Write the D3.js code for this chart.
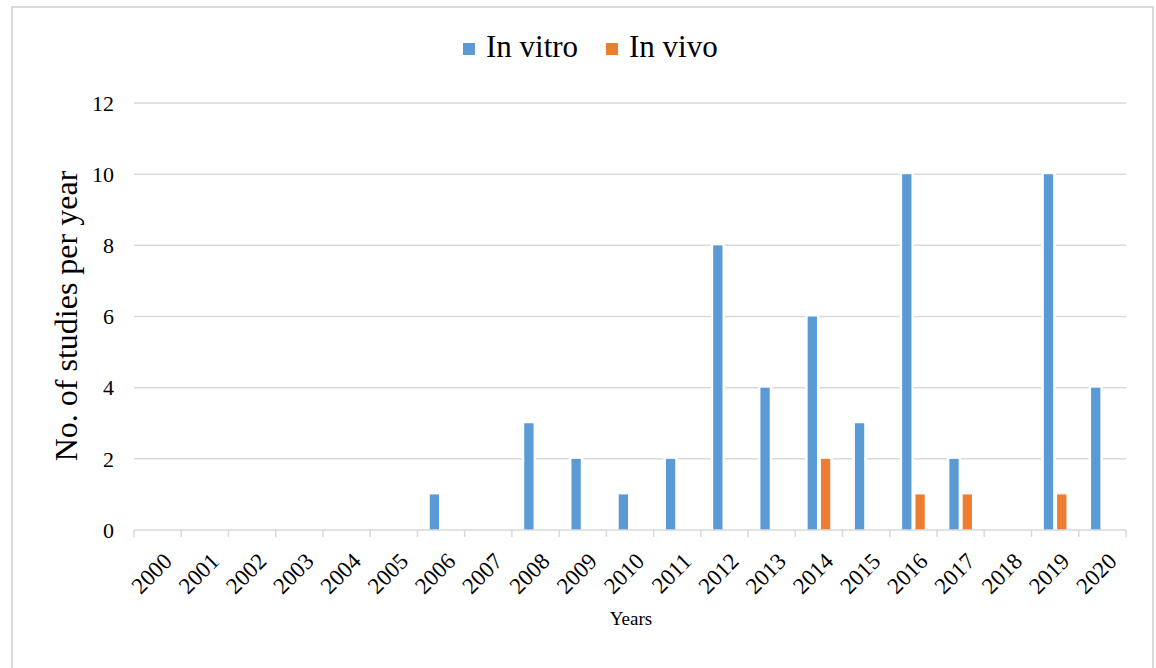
<!DOCTYPE html>
<html>
<head>
<meta charset="utf-8">
<script src="https://cdn.jsdelivr.net/npm/d3@7"></script>
<style>
  body { margin: 0; background: #fff; }
  svg text { font-family: "Liberation Serif", serif; fill: #000; }
</style>
</head>
<body>
<svg id="chart" width="1156" height="668"></svg>
<script>
let years = ["2000", "2001", "2002", "2003", "2004", "2005", "2006", "2007", "2008", "2009", "2010",
    "2011", "2012", "2013", "2014", "2015", "2016", "2017", "2018", "2019", "2020"];
let inVitro = [0, 0, 0, 0, 0, 0, 1, 0, 3, 2, 1, 2, 8, 4, 6, 3, 10, 2, 0, 10, 4];
let inVivo = [0, 0, 0, 0, 0, 0, 0, 0, 0, 0, 0, 0, 0, 0, 2, 0, 1, 1, 0, 1, 0];
let seriesNames = ["In vitro", "In vivo"];
let seriesColors = ["#5b9bd5", "#ed7d31"];
let yTicks = [0, 2, 4, 6, 8, 10, 12];

let serif = "'Liberation Serif', serif";
let svg = d3.select("#chart");

// chart border
svg.append("rect")
    .attr("x", 12).attr("y", 7)
    .attr("width", 1141).attr("height", 700)
    .attr("fill", "none")
    .attr("stroke", "#d9d9d9")
    .attr("stroke-width", 2);

let plotLeft = 134, plotRight = 1126, plotTop = 103, plotBottom = 530;

let x0 = d3.scaleBand().domain(years).range([plotLeft, plotRight]).padding(0);
let x1 = d3.scaleBand().domain(seriesNames).range([-11.3, 11.3]).paddingInner(0.3);
let y = d3.scaleLinear().domain([0, 12]).range([plotBottom, plotTop]);

// gridlines
svg.append("g")
    .selectAll("line")
    .data(yTicks.filter((d) => d > 0))
    .join("line")
    .attr("x1", plotLeft).attr("x2", plotRight)
    .attr("y1", (d) => y(d)).attr("y2", (d) => y(d))
    .attr("stroke", "#d9d9d9")
    .attr("stroke-width", 1.5);

// bars
let rows = [];
years.forEach((yr, i) => {
    [inVitro[i], inVivo[i]].forEach((v, j) => {
        if (v > 0) rows.push({ year: yr, series: seriesNames[j], value: v, color: seriesColors[j] });
    });
});

svg.append("g")
    .selectAll("rect")
    .data(rows)
    .join("rect")
    .attr("x", (d) => x0(d.year) + x0.bandwidth() / 2 + x1(d.series))
    .attr("width", x1.bandwidth())
    .attr("y", (d) => y(d.value))
    .attr("height", (d) => y(0) - y(d.value))
    .attr("fill", (d) => d.color)
    .attr("stroke", "#fff")
    .attr("stroke-width", 5)
    .style("paint-order", "stroke");

// x axis
let xAxis = svg.append("g");
xAxis.append("line")
    .attr("x1", plotLeft).attr("x2", plotRight)
    .attr("y1", plotBottom).attr("y2", plotBottom)
    .attr("stroke", "#d9d9d9")
    .attr("stroke-width", 1.5);
xAxis.selectAll(".tick")
    .data(years.concat(["end"]))
    .join("line")
    .attr("x1", (d, i) => plotLeft + i * x0.step())
    .attr("x2", (d, i) => plotLeft + i * x0.step())
    .attr("y1", plotBottom).attr("y2", plotBottom + 7)
    .attr("stroke", "#d9d9d9")
    .attr("stroke-width", 1.5);
xAxis.selectAll("text")
    .data(years)
    .join("text")
    .attr("transform", (d) => `translate(${x0(d) + x0.bandwidth() / 2 + 4},${plotBottom + 21}) rotate(-45)`)
    .attr("text-anchor", "end")
    .attr("dy", "0.72em")
    .style("font-family", serif)
    .style("font-size", "23px")
    .text((d) => d);

// y labels
svg.append("g")
    .selectAll("text")
    .data(yTicks)
    .join("text")
    .attr("x", 114)
    .attr("y", (d) => y(d))
    .attr("dy", "0.35em")
    .attr("text-anchor", "end")
    .style("font-family", serif)
    .style("font-size", "22px")
    .text((d) => d);

// axis titles
svg.append("text")
    .attr("transform", "translate(77,316) rotate(-90)")
    .attr("text-anchor", "middle")
    .style("font-family", serif)
    .style("font-size", "32px")
    .text("No. of studies per year");

svg.append("text")
    .attr("x", 631).attr("y", 625)
    .attr("text-anchor", "middle")
    .style("font-family", serif)
    .style("font-size", "19px")
    .text("Years");

// legend
let legendPos = [463, 606];
seriesNames.forEach((name, i) => {
    let g = svg.append("g").attr("transform", `translate(${legendPos[i]},0)`);
    g.append("rect")
        .attr("x", 0).attr("y", 43)
        .attr("width", 12).attr("height", 12)
        .attr("fill", seriesColors[i]);
    g.append("text")
        .attr("x", 23).attr("y", 57)
        .style("font-family", serif)
        .style("font-size", "31px")
        .text(name);
});
</script>
</body>
</html>
